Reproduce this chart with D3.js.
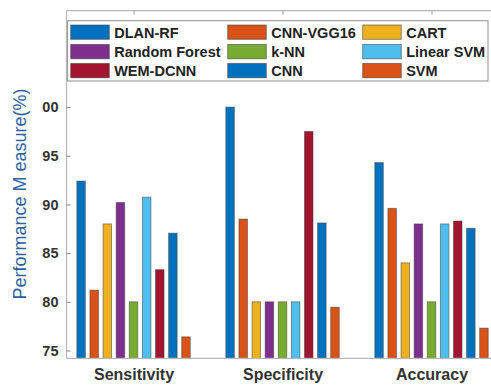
<!DOCTYPE html>
<html>
<head>
<meta charset="utf-8">
<script src="https://cdn.jsdelivr.net/npm/d3@7"></script>
<style>
  html, body { margin: 0; padding: 0; background: #fff; }
  svg { display: block; }
  text { font-family: "Liberation Sans", Arial, sans-serif; }
</style>
</head>
<body>
<svg id="chart" width="491" height="385"></svg>
<script>
// Performance of each method on three metrics (%)
const categories = ["Sensitivity", "Specificity", "Accuracy"];
const models = ["DLAN-RF", "CNN-VGG16", "CART", "Random Forest", "k-NN",
                "Linear SVM", "WEM-DCNN", "CNN", "SVM"];
const colors = ["#0072BD", "#D95319", "#EDB120", "#7E2F8E", "#77AC30",
                "#4DBEEE", "#A2142F", "#0072BD", "#D95319"];
const sensitivity = [92.4, 81.2, 88.0, 90.2, 80.0, 90.75, 83.3, 87.05, 76.4];
const specificity = [100.0, 88.5, 80.0, 80.0, 80.0, 80.0, 97.5, 88.1, 79.45];
const accuracy    = [94.3, 89.6, 84.0, 88.0, 80.0, 88.0, 88.3, 87.55, 77.3];
const yTicks = [75, 80, 85, 90, 95, 100];
const yLabel = "Performance M easure(%)";

const series = [sensitivity, specificity, accuracy];

const svg = d3.select("#chart");

// Axes geometry
const yMin = 74.2, yMax = 109.9;
const y = d3.scaleLinear().domain([yMin, yMax]).range([358.3, 10.7]);
const x = d3.scaleLinear().domain([0.55, 3.5]).range([66.5, 506]);

// Position of each bar inside a category group (in category units)
const inner = d3.scaleBand().domain(models).range([-0.396, 0.396])
  .paddingInner(0.35).paddingOuter(0.175);
const unit = x(2) - x(1);

const axisColor = "#b8b8b8";

// Bars
const g = svg.append("g");
categories.forEach((cat, ci) => {
  const cx = ci + 1;
  g.selectAll(null)
    .data(models.map((m, mi) => ({ m, mi, v: series[ci][mi] })))
    .join("rect")
    .attr("x", d => x(cx) + inner(d.m) * unit)
    .attr("width", inner.bandwidth() * unit)
    .attr("y", d => y(d.v))
    .attr("height", d => y(yMin) - y(d.v))
    .attr("fill", d => colors[d.mi])
    .attr("stroke", "#3a3a3a")
    .attr("stroke-opacity", 0.55)
    .attr("stroke-width", 0.9);
});

// Frame: left, bottom and top lines
svg.append("line").attr("x1", x(0.55)).attr("x2", x(0.55))
  .attr("y1", y(yMin)).attr("y2", y(yMax))
  .attr("stroke", axisColor).attr("stroke-width", 1.2);
svg.append("line").attr("x1", x(0.55)).attr("x2", 491)
  .attr("y1", y(yMin)).attr("y2", y(yMin))
  .attr("stroke", axisColor).attr("stroke-width", 1.2);
svg.append("line").attr("x1", x(0.55)).attr("x2", 491)
  .attr("y1", y(yMax)).attr("y2", y(yMax))
  .attr("stroke", axisColor).attr("stroke-width", 1.2);

// Y axis ticks and labels (label area clipped at its left edge)
svg.append("clipPath").attr("id", "yclip")
  .append("rect").attr("x", 42).attr("y", 0).attr("width", 40).attr("height", 385);

const yAxis = d3.axisLeft(y).tickValues(yTicks).tickSize(-4).tickPadding(8)
  .tickFormat(d3.format("d"));
const ya = svg.append("g").attr("clip-path", "url(#yclip)")
  .append("g").attr("transform", `translate(${x(0.55)},0)`)
  .call(yAxis);
ya.select(".domain").remove();
ya.selectAll(".tick line").attr("stroke", "#888").attr("stroke-width", 1);
ya.selectAll(".tick text")
  .attr("fill", "#333").attr("font-size", 14.5).attr("font-weight", "bold")
  .attr("font-family", "'Liberation Sans', Arial, sans-serif");

// Category ticks on the top edge and labels below the plot
const xTop = d3.axisTop(x).tickValues([1, 2, 3]).tickSize(-4).tickFormat("");
const xt = svg.append("g").attr("transform", `translate(0,${y(yMax)})`).call(xTop);
xt.select(".domain").remove();
xt.selectAll(".tick line").attr("stroke", "#999");

const xBottom = d3.axisBottom(x).tickValues([1, 2, 3]).tickSize(0).tickPadding(10)
  .tickFormat((d, i) => categories[i]);
const xb = svg.append("g").attr("transform", `translate(0,${y(yMin)})`).call(xBottom);
xb.select(".domain").remove();
xb.selectAll(".tick text")
  .attr("fill", "#333").attr("font-size", 16).attr("font-weight", "bold")
  .attr("font-family", "'Liberation Sans', Arial, sans-serif");

// Y axis title
svg.append("text")
  .attr("transform", "translate(26,194) rotate(-90)")
  .attr("text-anchor", "middle")
  .attr("font-size", 18)
  .attr("fill", "#2f5f9f")
  .text(yLabel);

// Legend
const lg = svg.append("g");
lg.append("rect").attr("x", 67.5).attr("y", 20.7).attr("width", 420.5).attr("height", 60.3)
  .attr("fill", "#fff").attr("stroke", "#a0a0a0").attr("stroke-width", 1.2);
const colX = [70.7, 227.7, 362.7];
const rowY = [25, 44.5, 63.5];
models.forEach((m, i) => {
  const c = i % 3, r = Math.floor(i / 3);
  lg.append("rect").attr("x", colX[c]).attr("y", rowY[r])
    .attr("width", 38.6).attr("height", 14.3)
    .attr("fill", colors[i]).attr("stroke", "#3a3a3a").attr("stroke-opacity", 0.6)
    .attr("stroke-width", 0.9);
  lg.append("text").attr("x", colX[c] + 43.5).attr("y", rowY[r] + 12.8)
    .attr("font-size", 14.5).attr("font-weight", "bold").attr("fill", "#222")
    .text(m);
});
</script>
</body>
</html>
